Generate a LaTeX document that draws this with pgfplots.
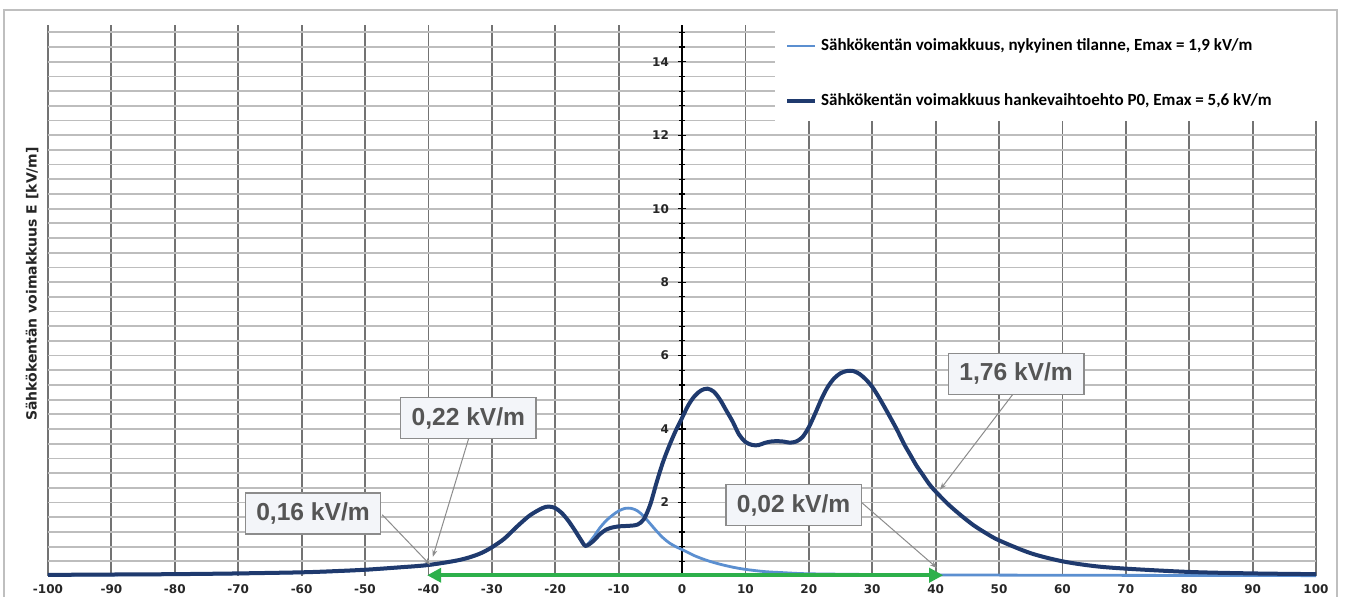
\documentclass[border=0pt]{standalone}
\usepackage{fontspec}
\setmainfont{DejaVu Sans}
\newfontfamily\carlito{Carlito}
\newfontfamily\lsans{Liberation Sans}
\usepackage{pgfplots}
\pgfplotsset{compat=1.18}
\usetikzlibrary{arrows.meta}

\definecolor{darkcurve}{HTML}{1F3A6E}
\definecolor{lightcurve}{HTML}{5B8FD0}
\definecolor{arrowgreen}{HTML}{2DB04B}
\definecolor{boxfill}{HTML}{F3F5F9}
\definecolor{boxtext}{HTML}{555555}

\begin{document}
\begin{tikzpicture}
  \useasboundingbox (-24pt,-10.5pt) rectangle (648.5pt,288pt);
  \fill[white] (-24pt,-10.5pt) rectangle (648.5pt,288pt);
  \draw[black!25, line width=1pt] (-22pt,-20pt) rectangle (644.5pt,283pt);
  \begin{axis}[
      at={(0,0)}, anchor=south west,
      scale only axis,
      width=634pt, height=275.5pt,
      xmin=-100, xmax=100, ymin=0, ymax=15,
      clip=false,
      axis x line=bottom, axis y line=middle,
      x axis line style={draw=none},
      y axis line style={-, black, line width=1.4pt},
      xtick={-100,-90,...,100},
      xticklabels={-100,-90,-80,-70,-60,-50,-40,-30,-20,-10,0,10,20,30,40,50,60,70,80,90,100},
      xtick style={draw=none},
      ytick={0,2,...,14},
      yticklabels={0,2,4,6,8,10,12,14},
      minor ytick={0.4,0.8,...,14.9},
      ytick style={black, line width=0.6pt},
      tick align=center,
      major tick length=4pt, minor tick length=3pt,
      xmajorgrids, yminorgrids,
      major grid style={black!55, line width=0.9pt},
      minor grid style={black!26, line width=0.9pt},
      ticklabel style={font=\fontsize{6}{7}\selectfont\bfseries, text=black!85},
      xticklabel style={yshift=1.2pt},
      yticklabel style={xshift=-1pt},
      legend style={at={(axis cs:16.2,14.75)}, anchor=north west, draw=none, fill=none,
        font=\carlito\bfseries\fontsize{8.5}{9}\selectfont, row sep=16pt, inner sep=0pt,
        cells={anchor=west}},
      legend image code/.code={\draw[#1] (0pt,0pt) -- (14pt,0pt);},
    ]
    % white area behind the legend
    \fill[white] (axis cs:14.7,12.38) rectangle (axis cs:101,15.2);

    \addplot[lightcurve, line width=1.4pt, smooth, tension=0.5] coordinates {
      (-100,0.02) (-90,0.03) (-80,0.04) (-70,0.06) (-60,0.09) (-55,0.12) (-50,0.16)
      (-45,0.22) (-40,0.29) (-35,0.43) (-32,0.59) (-30,0.77) (-28,1.01) (-26,1.34)
      (-24,1.64) (-22,1.84) (-21,1.88) (-20,1.84) (-19,1.71) (-18,1.51) (-17,1.26)
      (-16,0.99) (-15.2,0.82) (-14,1.05) (-13,1.3) (-12,1.5) (-11,1.65) (-10,1.77)
      (-9,1.84) (-8,1.84) (-7,1.77) (-6,1.62) (-5,1.42) (-4,1.22) (-3,1.04) (-2,0.9)
      (-1,0.8) (0,0.72) (2,0.55) (4,0.42) (6,0.32) (8,0.24) (10,0.18) (13,0.12)
      (16,0.09) (20,0.06) (30,0.04) (40,0.03) (60,0.02) (100,0.01)
    };
    \addlegendentry{Sähkökentän voimakkuus, nykyinen tilanne, Emax = 1,9 kV/m}

    \addplot[darkcurve, line width=2pt, smooth, tension=0.5] coordinates {
      (-100,0.03) (-90,0.04) (-80,0.05) (-70,0.07) (-60,0.1) (-55,0.13) (-50,0.17)
      (-45,0.23) (-40,0.3) (-35,0.44) (-32,0.6) (-30,0.78) (-28,1.02) (-26,1.35)
      (-24,1.65) (-22,1.85) (-21,1.89) (-20,1.85) (-19,1.72) (-18,1.52) (-17,1.27)
      (-16,1.0) (-15.2,0.82) (-14,0.95) (-13,1.13) (-12,1.26) (-11,1.32) (-10,1.35)
      (-9,1.36) (-8,1.37) (-7,1.4) (-6,1.55) (-5,1.95) (-4,2.55) (-3,3.1) (-2,3.55)
      (-1,3.95) (0,4.3) (1,4.65) (2,4.9) (3,5.05) (4,5.1) (5,5.02) (6,4.8) (7,4.5)
      (8,4.2) (9,3.85) (10,3.65) (11,3.57) (12,3.56) (13,3.62) (14,3.66) (15,3.67)
      (16,3.66) (17,3.63) (18,3.66) (19,3.78) (20,4.05) (21,4.42) (22,4.82) (23,5.15)
      (24,5.38) (25,5.52) (26,5.58) (27,5.58) (28,5.5) (29,5.35) (30,5.15) (31,4.88)
      (32,4.58) (33,4.27) (34,3.95) (35,3.6) (36,3.3) (37,3.0) (38,2.75) (39,2.5)
      (40,2.3) (42,1.95) (44,1.65) (46,1.38) (48,1.16) (50,0.97) (55,0.62) (60,0.4)
      (65,0.27) (70,0.2) (80,0.11) (90,0.07) (100,0.05)
    };
    \addlegendentry{Sähkökentän voimakkuus hankevaihtoehto P0, Emax = 5,6 kV/m}

    % green distance arrow
    \addplot[arrowgreen, line width=2.2pt, forget plot,
      {Triangle[length=7pt,width=7pt]}-{Triangle[length=7pt,width=7pt]}]
      coordinates {(-40.2,0.02) (41.2,0.02)};

    % callouts
    \tikzset{calline/.style={black!45, line width=0.5pt, -{Stealth[length=3.5pt,width=2.5pt]}},
      callout/.style={draw=black!45, fill=boxfill, line width=0.7pt, inner xsep=5.5pt,
        minimum height=20.5pt, text=boxtext, font=\lsans\bfseries\fontsize{12.3}{14}\selectfont}}
    \draw[calline] (axis cs:-33.6,3.77) -- (axis cs:-39.3,0.52);
    \draw[calline] (axis cs:-47.3,1.67) -- (axis cs:-39.7,0.3);
    \draw[calline] (axis cs:28.4,1.99) -- (axis cs:40.2,0.22);
    \draw[calline] (axis cs:52.2,4.95) -- (axis cs:40.7,2.35);
    \node[callout] at (axis cs:-33.7,4.3) {0,22 kV/m};
    \node[callout] at (axis cs:-58.2,1.7) {0,16 kV/m};
    \node[callout] at (axis cs:17.6,1.93) {0,02 kV/m};
    \node[callout] at (axis cs:52.7,5.5) {1,76 kV/m};

    \node[rotate=90, font=\fontsize{7}{8}\selectfont\bfseries, text=black!85]
      at (rel axis cs:-0.0126,0.53) {Sähkökentän voimakkuus E [kV/m]};
  \end{axis}
\end{tikzpicture}
\end{document}
